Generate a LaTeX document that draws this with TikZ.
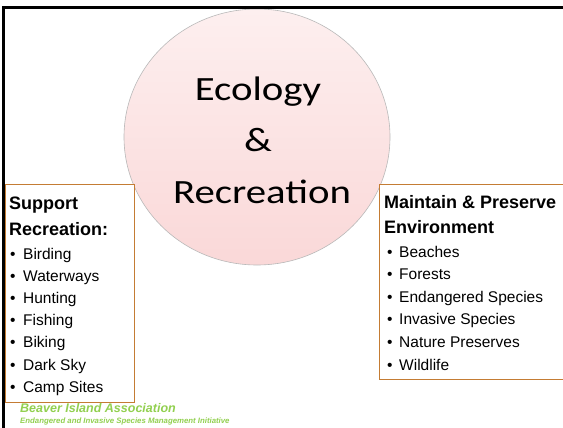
\documentclass[tikz,border=0pt]{standalone}
\usepackage{fontspec}
\usetikzlibrary{shapes.geometric}
\setmainfont{Liberation Sans}
\newfontfamily\calib{Carlito}
\definecolor{boxorange}{RGB}{196,124,52}
\definecolor{bigreen}{RGB}{146,208,80}
\definecolor{pinktop}{RGB}{253,239,239}
\definecolor{pinkbot}{RGB}{250,216,216}
\begin{document}
\begin{tikzpicture}[x=1pt,y=-1pt,
  hubtext/.style={anchor=base, font=\calib\fontsize{34}{34}\selectfont},
  panel/.style={draw=boxorange, fill=white, line width=0.8pt, inner sep=0pt, anchor=north west},
  head/.style={anchor=base west, inner sep=0pt, font=\bfseries\fontsize{18}{18}\selectfont},
  item/.style={anchor=base west, inner sep=0pt, font=\fontsize{15.5}{15.5}\selectfont},
  foot/.style={anchor=base west, inner sep=0pt, text=bigreen}]
\useasboundingbox (0,0) rectangle (563,428);
\clip (0,0) rectangle (563,428);
\fill[white] (0,0) rectangle (563,428);
% central circle
\node[ellipse, minimum width=266pt, minimum height=256pt, inner sep=0pt, draw=gray!55, line width=0.6pt,
      top color=pinktop, bottom color=pinkbot] (hub) at (257,137) {};
\node[hubtext] (t1) at (258,100) {\scalebox{1.2}[1]{Ecology}};
\node[hubtext] (t2) at (258,151) {\scalebox{1.2}[1]{\&}};
\node[hubtext] (t3) at (262,203) {\scalebox{1.2}[1]{Recreation}};
% left panel
\node[panel, minimum width=129pt, minimum height=218pt] (lbox) at (5,184) {};
\node[head] (lh1) at (9,209) {Support};
\node[head] (lh2) at (9,235) {Recreation:};
\node[item] (l1) at (10,259) {\makebox[13pt][l]{\textbullet}Birding};
\node[item] (l2) at (10,281.2) {\makebox[13pt][l]{\textbullet}Waterways};
\node[item] (l3) at (10,303.4) {\makebox[13pt][l]{\textbullet}Hunting};
\node[item] (l4) at (10,325.6) {\makebox[13pt][l]{\textbullet}Fishing};
\node[item] (l5) at (10,347.8) {\makebox[13pt][l]{\textbullet}Biking};
\node[item] (l6) at (10,370) {\makebox[13pt][l]{\textbullet}Dark Sky};
\node[item] (l7) at (10,392.2) {\makebox[13pt][l]{\textbullet}Camp Sites};
% right panel
\node[panel, minimum width=200pt, minimum height=195pt] (rbox) at (379,184) {};
\node[head] (rh1) at (384,208) {Maintain \& Preserve};
\node[head] (rh2) at (384,233) {Environment};
\node[item] (r1) at (387,257) {\makebox[12pt][l]{\textbullet}Beaches};
\node[item] (r2) at (387,279.6) {\makebox[12pt][l]{\textbullet}Forests};
\node[item] (r3) at (387,302.2) {\makebox[12pt][l]{\textbullet}Endangered Species};
\node[item] (r4) at (387,324.8) {\makebox[12pt][l]{\textbullet}Invasive Species};
\node[item] (r5) at (387,347.4) {\makebox[12pt][l]{\textbullet}Nature Preserves};
\node[item] (r6) at (387,370) {\makebox[12pt][l]{\textbullet}Wildlife};
% footer
\node[foot, font=\bfseries\itshape\fontsize{12.5}{12.5}\selectfont] (f1) at (20,412) {Beaver Island Association};
\node[foot, font=\bfseries\itshape\fontsize{7.8}{7.8}\selectfont] (f2) at (20,423) {Endangered and Invasive Species Management Initiative};
% slide frame
\draw[line width=2.5pt] (3.5,430) -- (3.5,7.5) -- (570,7.5);
\end{tikzpicture}
\end{document}
